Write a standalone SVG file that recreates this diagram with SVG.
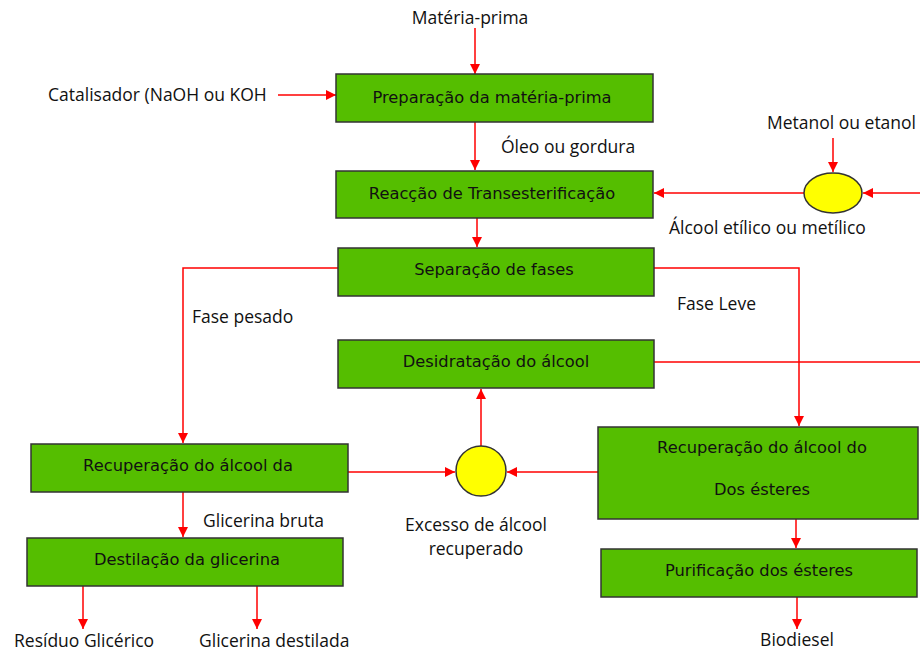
<svg xmlns="http://www.w3.org/2000/svg" width="920" height="653" viewBox="0 0 920 653">
<defs>
<marker id="ah" viewBox="0 0 10 10" refX="10" refY="5" markerWidth="10" markerHeight="10" markerUnits="userSpaceOnUse" orient="auto">
<path d="M0,0 L10,5 L0,10 z" fill="#ff0000"/>
</marker>
<style>
.box{fill:#55be00;stroke:#333;stroke-width:1.5}
.bt{font-family:"DejaVu Sans",Verdana,sans-serif;font-size:16.3px;fill:#111;text-anchor:middle}
.lb{font-family:"Open Sans","Liberation Sans",sans-serif;font-size:17.5px;fill:#111}
.ln{fill:none;stroke:#ff0000;stroke-width:1.5}
.ar{fill:none;stroke:#ff0000;stroke-width:1.5;marker-end:url(#ah)}
.el{fill:#ffff00;stroke:#333;stroke-width:1.5}
</style>
</defs>
<rect width="920" height="653" fill="#fff"/>
<g id="connectors">
<path class="ar" d="M475,28 V74"/>
<path class="ar" d="M278,95 H336"/>
<path class="ar" d="M475,122 V170"/>
<path class="ar" d="M833,138 V172"/>
<path class="ar" d="M920,193 H863"/>
<path class="ar" d="M804,193 H654"/>
<path class="ar" d="M477,218 V247"/>
<path class="ar" d="M338,268 H183 V443"/>
<path class="ar" d="M654,268 H799 V426"/>
<path class="ln" d="M654,362 H920"/>
<path class="ar" d="M481,446 V389"/>
<path class="ar" d="M348,472 H455"/>
<path class="ar" d="M598,472 H507"/>
<path class="ar" d="M183,492 V537"/>
<path class="ar" d="M796,519 V548"/>
<path class="ar" d="M797,597 V629"/>
<path class="ar" d="M83,586 V629"/>
<path class="ar" d="M257,586 V629"/>
</g>
<g id="n-materia"><text class="lb" x="470" y="24" text-anchor="middle">Matéria-prima</text></g>
<g id="n-catalisador"><text class="lb" x="48" y="101">Catalisador (NaOH ou KOH</text></g>
<g id="n-preparacao"><rect class="box" x="336" y="74" width="317" height="48"/><text class="bt" x="492" y="103">Preparação da matéria-prima</text></g>
<g id="l-oleo"><text class="lb" x="501" y="153">Óleo ou gordura</text></g>
<g id="n-reaccao"><rect class="box" x="336" y="171" width="317" height="47"/><text class="bt" x="492" y="199">Reacção de Transesterificação</text></g>
<g id="n-metanol"><text class="lb" x="767" y="129">Metanol ou etanol</text></g>
<g id="n-mix1"><ellipse class="el" cx="833" cy="193" rx="29" ry="20"/></g>
<g id="l-alcool"><text class="lb" x="669" y="234">Álcool etílico ou metílico</text></g>
<g id="n-separacao"><rect class="box" x="338" y="248" width="316" height="48"/><text class="bt" x="494" y="275">Separação de fases</text></g>
<g id="l-pesado"><text class="lb" x="192" y="323">Fase pesado</text></g>
<g id="l-leve"><text class="lb" x="677" y="310">Fase Leve</text></g>
<g id="n-desidratacao"><rect class="box" x="338" y="340" width="316" height="48"/><text class="bt" x="496" y="367">Desidratação do álcool</text></g>
<g id="n-mix2"><ellipse class="el" cx="481" cy="471" rx="25" ry="25"/></g>
<g id="l-excesso"><text class="lb" x="476" y="531" text-anchor="middle">Excesso de álcool</text><text class="lb" x="476" y="555" text-anchor="middle">recuperado</text></g>
<g id="n-recglic"><rect class="box" x="31" y="444" width="317" height="48"/><text class="bt" x="188" y="471">Recuperação do álcool da</text></g>
<g id="n-recest"><rect class="box" x="598" y="427" width="320" height="92"/><text class="bt" x="762" y="453">Recuperação do álcool do</text><text class="bt" x="762" y="495">Dos ésteres</text></g>
<g id="l-bruta"><text class="lb" x="203" y="527">Glicerina bruta</text></g>
<g id="n-destilacao"><rect class="box" x="27" y="538" width="316" height="48"/><text class="bt" x="187" y="565">Destilação da glicerina</text></g>
<g id="n-purificacao"><rect class="box" x="601" y="549" width="316" height="48"/><text class="bt" x="759" y="576">Purificação dos ésteres</text></g>
<g id="n-biodiesel"><text class="lb" x="797" y="646" text-anchor="middle">Biodiesel</text></g>
<g id="n-residuo"><text class="lb" x="14" y="647">Resíduo Glicérico</text></g>
<g id="n-glicdest"><text class="lb" x="199" y="647">Glicerina destilada</text></g>
</svg>
